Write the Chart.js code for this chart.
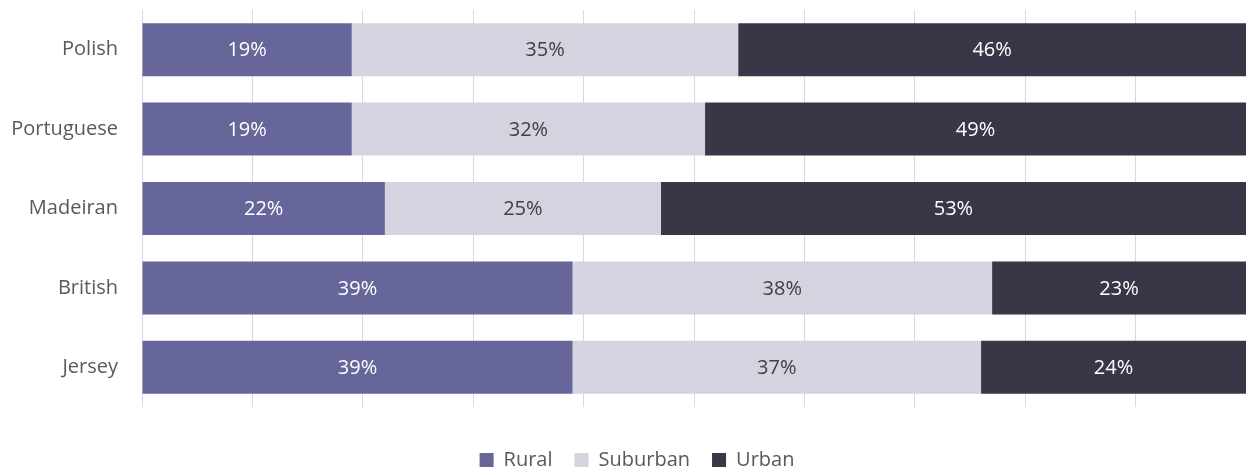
<!DOCTYPE html>
<html>
<head>
<meta charset="utf-8">
<script src="https://cdn.jsdelivr.net/npm/chart.js@4/dist/chart.umd.min.js"></script>
<style>
  html, body { margin: 0; padding: 0; background: #fff; }
  #wrap { width: 1246px; height: 468px; position: relative; }
</style>
</head>
<body>
<div id="wrap"><canvas id="chart"></canvas></div>
<script>
// Chart data
const categories = ['Polish', 'Portuguese', 'Madeiran', 'British', 'Jersey'];
const rural = [19, 19, 22, 39, 39];
const suburban = [35, 32, 25, 38, 37];
const urban = [46, 49, 53, 23, 24];
const seriesNames = ['Rural', 'Suburban', 'Urban'];
const seriesColors = ['#67669a', '#d4d3df', '#393648'];
const labelColors = ['#ffffff', '#404040', '#ffffff'];

const FONT = "'Open Sans', 'Liberation Sans', sans-serif";

// Draw percentage labels in the middle of each segment
const segmentLabels = {
    id: 'segmentLabels',
    afterDatasetsDraw(chart) {
        const ctx = chart.ctx;
        ctx.save();
        ctx.font = '20px ' + FONT;
        ctx.textAlign = 'center';
        ctx.textBaseline = 'middle';
        chart.data.datasets.forEach((ds, i) => {
            const meta = chart.getDatasetMeta(i);
            meta.data.forEach((bar, j) => {
                const mid = (bar.x + bar.base) / 2;
                ctx.fillStyle = labelColors[i];
                ctx.fillText(ds.data[j] + '%', mid, bar.y + 1);
            });
        });
        ctx.restore();
    }
};

// Nudge the legend a little right, like the original
const legendShift = {
    id: 'legendShift',
    afterLayout(chart) {
        chart.legend.left += 14;
        chart.legend.right += 14;
    }
};

new Chart(document.getElementById('chart'), {
    type: 'bar',
    data: {
        labels: categories,
        datasets: [rural, suburban, urban].map((vals, i) => ({
            label: seriesNames[i],
            data: vals,
            backgroundColor: seriesColors[i],
            borderWidth: 0,
            categoryPercentage: 1,
            barPercentage: 0.667
        }))
    },
    options: {
        indexAxis: 'y',
        responsive: true,
        maintainAspectRatio: false,
        animation: false,
        layout: { padding: { top: 10, right: 0, left: 0, bottom: -12 } },
        plugins: {
            legend: {
                position: 'bottom',
                labels: {
                    boxWidth: 14,
                    boxHeight: 14,
                    padding: 22,
                    color: '#595959',
                    font: { family: FONT, size: 20 }
                }
            },
            tooltip: { enabled: false }
        },
        scales: {
            x: {
                stacked: true,
                min: 0,
                max: 100,
                ticks: { display: false, stepSize: 10 },
                grid: { color: '#d9d9d9', lineWidth: 1, drawTicks: false },
                border: { display: false },
                afterFit(scale) { scale.height = 21; }
            },
            y: {
                stacked: true,
                ticks: { color: '#595959', padding: 24, font: { family: FONT, size: 20 } },
                grid: { display: false, drawTicks: false },
                border: { display: false },
                afterFit(scale) {
                    scale.width = 142;
                    scale.paddingTop = 0;
                    scale.paddingBottom = 0;
                }
            }
        }
    },
    plugins: [segmentLabels, legendShift]
});
</script>
</body>
</html>
